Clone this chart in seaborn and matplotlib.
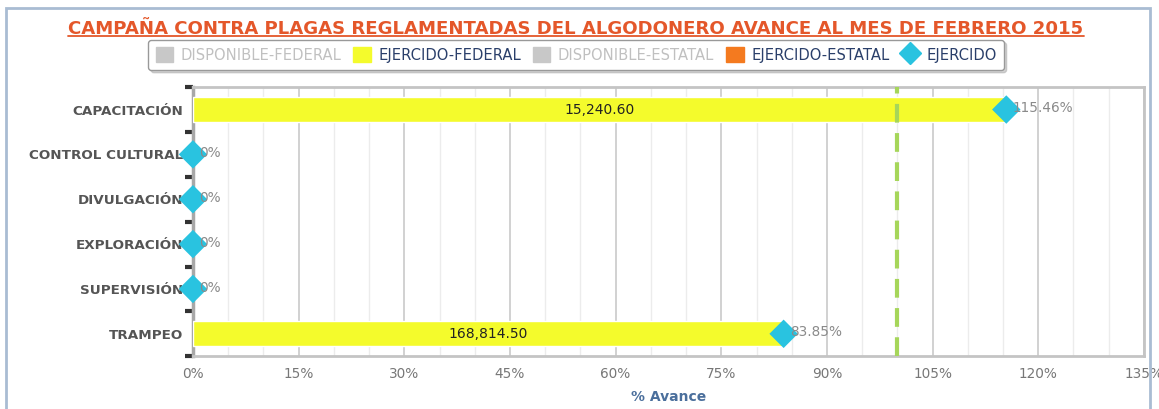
import matplotlib
matplotlib.use("Agg")
import matplotlib.pyplot as plt
import matplotlib.patches as mpatches
from matplotlib.lines import Line2D
from matplotlib.ticker import MultipleLocator, FixedLocator
import pandas as pd
import seaborn as sns

# data
categorias = ["CAPACITACIÓN", "CONTROL CULTURAL", "DIVULGACIÓN",
              "EXPLORACIÓN", "SUPERVISIÓN", "TRAMPEO"]
avance = [115.46, 0, 0, 0, 0, 83.85]
ejercido_federal = [15240.60, 0, 0, 0, 0, 168814.50]
meta = 100
titulo = "CAMPAÑA CONTRA PLAGAS REGLAMENTADAS DEL ALGODONERO AVANCE AL MES DE FEBRERO 2015"

df = pd.DataFrame({"cat": categorias, "avance": avance, "monto": ejercido_federal})

sns.set_style("white")
plt.rcParams["font.family"] = ["DejaVu Sans"]

fig = plt.figure(figsize=(11.59, 4.09), dpi=100)
ax = fig.add_axes([0.1665, 0.129, 0.8205, 0.658])

amarillo = "#F4FB2C"
cian = "#29C3E0"

sns.barplot(data=df[df.monto > 0], x="avance", y="cat", order=categorias,
            color=amarillo, width=0.56, saturation=1, ax=ax, zorder=3)
sns.scatterplot(data=df, x="avance", y="cat", marker="D", s=210, color=cian,
                edgecolor="none", ax=ax, zorder=5, clip_on=False)

ax.axvline(meta, color="#A6D65A", lw=3, ls=(0, (4.5, 2.5)), zorder=4)

for i, row in df.iterrows():
    etiqueta = "0%" if row.avance == 0 else f"{row.avance:.2f}%"
    ax.text(row.avance + 0.9, i - 0.03, etiqueta, va="center", ha="left",
            fontsize=9.8, color="#8a8a8a", zorder=6)
    if row.monto > 0:
        ax.text(row.avance / 2, i, f"{row.monto:,.2f}", va="center", ha="center",
                fontsize=10, color="#222222", zorder=6)

ax.set_xlim(0, 135)
ax.set_ylim(5.5, -0.5)
ax.xaxis.set_major_locator(MultipleLocator(15))
ax.xaxis.set_minor_locator(MultipleLocator(5))
ax.set_xticklabels([f"{int(t)}%" for t in ax.get_xticks()])
ax.grid(axis="x", which="major", color="#C9C9C9", lw=1.2, zorder=0)
ax.grid(axis="x", which="minor", color="#ECECEC", lw=1, zorder=0)
ax.set_axisbelow(True)

ax.yaxis.set_minor_locator(FixedLocator([k - 0.5 for k in range(7)]))
ax.tick_params(axis="y", which="major", length=0, pad=7, labelsize=9.7,
               labelcolor="#555555")
ax.tick_params(axis="y", which="minor", length=6, width=3, color="#333333", left=True)
ax.tick_params(axis="x", which="both", length=0, pad=8, labelsize=9.8,
               labelcolor="#777777")
for lbl in ax.get_yticklabels():
    lbl.set_fontweight("bold")

for side in ["top", "right", "bottom"]:
    ax.spines[side].set_color("#C4C4C4")
    ax.spines[side].set_linewidth(2)
ax.spines["left"].set_color("#A8A8A8")
ax.spines["left"].set_linewidth(2.5)

ax.set_ylabel("")
ax.set_xlabel("")
fig.text(0.577, 0.029, "% Avance", ha="center", va="center", fontsize=10,
         fontweight="bold", color="#4B6F9C")

# marco exterior
fig.patches.append(mpatches.Rectangle((6 / 1159, -0.05), 1144 / 1159, 1 - 8 / 409 + 0.05,
                                      transform=fig.transFigure, fill=False,
                                      edgecolor="#A9BCD3", lw=2))

t = fig.text(0.497, 0.93, titulo, ha="center", va="center", fontsize=13.1,
             fontweight="bold", color="#E4572A")
fig.canvas.draw()
bb = t.get_window_extent().transformed(fig.transFigure.inverted())
fig.add_artist(Line2D([bb.x0, bb.x1], [bb.y0 + 0.003, bb.y0 + 0.003],
                      transform=fig.transFigure, color="#E4572A", lw=1.3))

handles = [
    mpatches.Patch(color="#C8C8C8", label="DISPONIBLE-FEDERAL"),
    mpatches.Patch(color=amarillo, label="EJERCIDO-FEDERAL"),
    mpatches.Patch(color="#C8C8C8", label="DISPONIBLE-ESTATAL"),
    mpatches.Patch(color="#F47A1F", label="EJERCIDO-ESTATAL"),
    Line2D([], [], marker="D", color=cian, ls="none", markersize=11, label="EJERCIDO"),
]
leg = fig.legend(handles=handles, loc="center", bbox_to_anchor=(0.497, 0.866), ncol=5,
                 frameon=True, fancybox=True, shadow={"color": "0.7", "alpha": 0.6},
                 fontsize=10.6, handlelength=1.2, handleheight=1.2, handletextpad=0.5,
                 columnspacing=0.8, borderpad=0.5)
leg.get_frame().set_edgecolor("#999999")
for txt, col in zip(leg.get_texts(), ["#C0C0C0", "#2A3F6A", "#C0C0C0", "#2A3F6A", "#2A3F6A"]):
    txt.set_color(col)

fig.savefig("out.png", dpi=100)
